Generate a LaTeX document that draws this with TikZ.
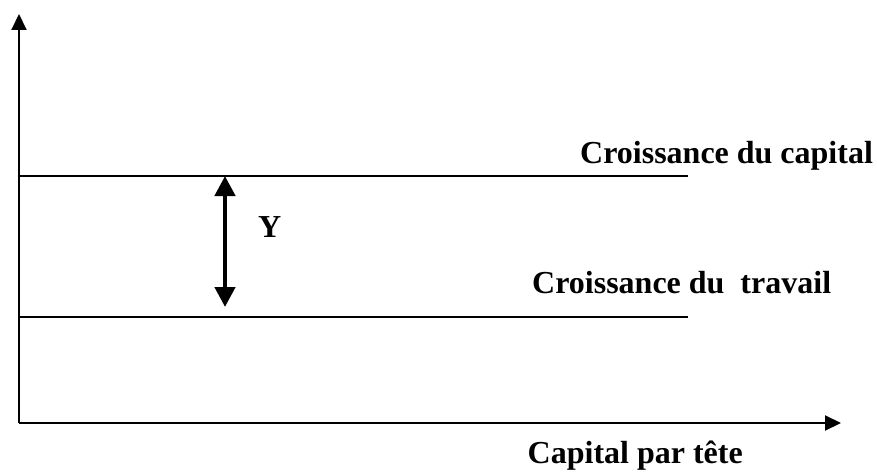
\documentclass[tikz,border=0pt]{standalone}
\usepackage{fontspec}
\setmainfont{Liberation Serif}
\usepackage{tikz}
\usetikzlibrary{
  arrows.meta,
  positioning
}

\begin{document}
\begin{tikzpicture}[
  x=1pt, y=1pt,
  axis/.style={
    -{Triangle[length=16pt, width=15pt]},
    line width=2pt, draw=black
  },
  level/.style={
    line width=1.6pt, draw=black
  },
  gap/.style={
    {Triangle[length=20pt, width=20pt]}-{Triangle[length=20pt, width=20pt]},
    line width=4.5pt, draw=black
  },
  label/.style={
    font=\fontsize{32}{37}\selectfont\bfseries,
    inner sep=0pt
  }
]

\useasboundingbox (0,0) rectangle (877,475);

% axes
\coordinate (O) at (19, 52);
\coordinate (ytop) at (19, 461);
\coordinate (xend) at (841, 52);
\draw[axis] (O) -- (ytop);
\draw[axis] (O) -- (xend);

% growth levels
\coordinate (k0) at (19, 299);
\coordinate (k1) at (688, 299);
\coordinate (l0) at (19, 158);
\coordinate (l1) at (688, 158);
\draw[level] (k0) -- (k1);
\draw[level] (l0) -- (l1);

% gap between the two
\coordinate (gtop) at (225, 299);
\coordinate (gbot) at (225, 168);
\draw[gap] (gbot) -- (gtop);

\node[label, anchor=base west] (ylab) at (258, 238) {Y};
\node[label, anchor=base west] (kap) at (580, 312) {Croissance du capital};
\node[label, anchor=base west] (trav) at (532, 182) {Croissance du\ \ travail};
\node[label, anchor=base east] (xlab) at (743, 12) {Capital par tête};

\end{tikzpicture}
\end{document}
